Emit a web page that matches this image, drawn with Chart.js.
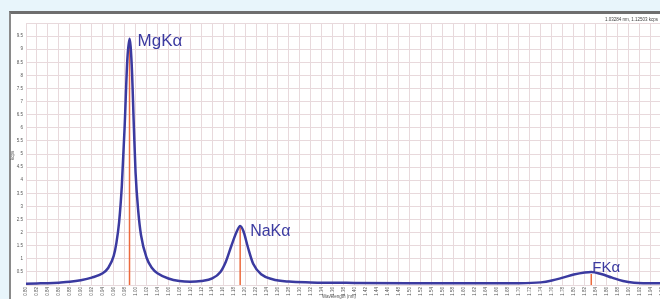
<!DOCTYPE html>
<html>
<head>
<meta charset="utf-8">
<script src="https://cdn.jsdelivr.net/npm/chart.js@4"></script>
<style>
  html, body { margin: 0; padding: 0; }
  body { width: 660px; height: 299px; overflow: hidden; background: #e8f5fb; position: relative; font-family: "Liberation Sans", Arial, sans-serif; }
  #panel { position: absolute; left: 9px; top: 11px; width: 700px; height: 320px; background: #fff; border-top: 3px solid #6e6e6e; border-left: 2px solid #8a8a8a; }
  #wrap { position: absolute; left: 0; top: 0; width: 700px; height: 299px; }
  #cursor { position: absolute; right: 2px; top: 17px; font-size: 4.5px; color: #444; }
  #ytitle { position: absolute; left: 10px; top: 160px; font-size: 4.5px; color: #555; transform: rotate(-90deg); transform-origin: left top; }
  #xtitle { position: absolute; left: 322px; top: 294px; font-size: 4.5px; color: #555; }
</style>
</head>
<body>
<div id="panel"></div>
<div id="wrap"><canvas id="spectrum" width="700" height="299"></canvas></div>
<div id="cursor">1.03284 nm, 1.12503 kcps</div>
<div id="ytitle">kcps</div>
<div id="xtitle">Wavelength (nm)</div>
<script>
// spectrum (wavelength nm, intensity kcps)
const wavelengths = [0.80, 0.82, 0.84, 0.86, 0.88, 0.90, 0.92, 0.94, 0.95, 0.96, 0.965, 0.97, 0.975, 0.98, 0.985, 0.989,
  0.993, 0.997, 1.00, 1.005, 1.01, 1.02, 1.03, 1.04, 1.06, 1.08, 1.10, 1.12, 1.14, 1.155, 1.165, 1.175, 1.185, 1.191,
  1.197, 1.205, 1.215, 1.23, 1.25, 1.28, 1.32, 1.40, 1.50, 1.60, 1.70, 1.74, 1.76, 1.78, 1.80, 1.82, 1.832, 1.85,
  1.87, 1.89, 1.91, 1.95, 2.00];
const intensity = [0.05, 0.06, 0.07, 0.09, 0.12, 0.18, 0.28, 0.45, 0.65, 1.1, 1.6, 2.4, 3.8, 6.0, 8.6, 9.4,
  8.4, 6.0, 4.3, 2.8, 1.9, 1.05, 0.65, 0.45, 0.25, 0.15, 0.12, 0.15, 0.25, 0.5, 0.9, 1.5, 2.05, 2.25,
  2.05, 1.45, 0.8, 0.4, 0.22, 0.13, 0.1, 0.08, 0.07, 0.07, 0.07, 0.1, 0.17, 0.28, 0.4, 0.48, 0.5, 0.42,
  0.28, 0.15, 0.09, 0.07, 0.07];

// characteristic lines
const lineNames = ['MgKα', 'NaKα', 'FKα'];
const linePositions = [0.989, 1.191, 1.832];
const lineHeights = [9.3, 2.2, 0.42];
const labelSizes = [17, 16, 15];

const yTickStep = 0.5;
const xTickStep = 0.02;

const curveColor = '#3b3aa0';
const lineColor = '#ec6a3e';

const lineSets = linePositions.map((p, i) => ({
  label: lineNames[i],
  data: [{ x: p, y: 0 }, { x: p, y: lineHeights[i] }],
  borderColor: lineColor,
  borderWidth: 1.5,
  pointRadius: 0,
  order: 2,
}));

// label offsets from each line top, in px
const labelDx = [8, 10, 1];
const labelDy = [5, 9, -2];

const peakLabels = {
  id: 'peakLabels',
  afterDatasetsDraw(chart) {
    const ctx = chart.ctx;
    const xs = chart.scales.x, ys = chart.scales.y;
    ctx.save();
    ctx.fillStyle = curveColor;
    ctx.textBaseline = 'alphabetic';
    linePositions.forEach((p, i) => {
      const px = xs.getPixelForValue(p);
      const py = ys.getPixelForValue(lineHeights[i]);
      ctx.font = labelSizes[i] + 'px "Liberation Sans", Arial, sans-serif';
      ctx.fillText(lineNames[i], px + labelDx[i], py + labelDy[i]);
    });
    ctx.restore();
  }
};

new Chart(document.getElementById('spectrum'), {
  type: 'line',
  data: {
    datasets: [{
      label: 'spectrum',
      data: wavelengths.map((w, i) => ({ x: w, y: intensity[i] })),
      borderColor: curveColor,
      borderWidth: 2.5,
      pointRadius: 0,
      cubicInterpolationMode: 'monotone',
      order: 1,
    }, ...lineSets],
  },
  options: {
    responsive: false,
    animation: false,
    layout: { padding: { left: 0, right: 0, top: 23, bottom: 0 } },
    plugins: { legend: { display: false }, tooltip: { enabled: false } },
    scales: {
      x: {
        type: 'linear',
        min: 0.8,
        max: 2.017,
        afterFit(scale) { scale.height = 14; },
        grid: { color: '#e8d9dc', lineWidth: 1, drawTicks: false },
        border: { display: false },
        ticks: {
          stepSize: xTickStep,
          autoSkip: false,
          minRotation: 90,
          maxRotation: 90,
          padding: 2,
          color: '#555',
          font: { size: 4.5 },
        },
      },
      y: {
        min: 0,
        max: 10,
        afterFit(scale) { scale.width = 26; },
        grid: { color: '#e8d9dc', lineWidth: 1, drawTicks: false },
        border: { display: false },
        ticks: {
          stepSize: yTickStep,
          padding: 3,
          color: '#555',
          font: { size: 4.5 },
          callback: (v) => (v === 0 || v === 10) ? '' : v,
        },
      },
    },
  },
  plugins: [peakLabels],
});
</script>
</body>
</html>
